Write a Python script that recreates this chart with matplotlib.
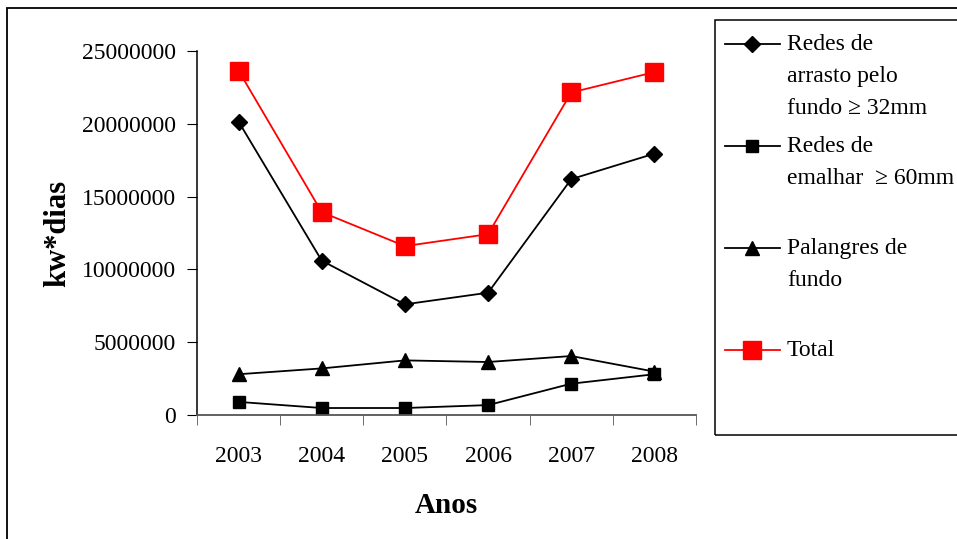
import numpy as np
import matplotlib.pyplot as plt
from matplotlib.lines import Line2D
from matplotlib.patches import Rectangle

plt.rcParams['font.family'] = ['Liberation Serif', 'DejaVu Serif']

anos = ['2003', '2004', '2005', '2006', '2007', '2008']
arrasto = [20150000, 10600000, 7600000, 8400000, 16200000, 17950000]
emalhar = [900000, 480000, 480000, 680000, 2150000, 2800000]
palangres = [2800000, 3200000, 3750000, 3640000, 4050000, 2980000]
total = [23650000, 13930000, 11600000, 12420000, 22150000, 23550000]

labels = ['Redes de\narrasto pelo\nfundo \u2265 32mm',
          'Redes de\nemalhar  \u2265 60mm',
          'Palangres de\nfundo',
          'Total']

W, H = 957, 539
fig = plt.figure(figsize=(W / 100, H / 100), dpi=100)

# outer chart border (runs off the right and bottom edges)
fig.patches.append(Rectangle((7 / W, -0.05), 1.2, 1 - 8 / H + 0.05,
                             transform=fig.transFigure, fill=False,
                             edgecolor='black', linewidth=1.3))

ax = fig.add_axes([197 / W, 1 - 415 / H, (696 - 197) / W, (415 - 51) / H])
x = np.arange(len(anos))

ax.plot(x, arrasto, color='black', lw=1.3, marker='D', ms=8, label=labels[0])
ax.plot(x, emalhar, color='black', lw=1.3, marker='s', ms=8, label=labels[1])
ax.plot(x, palangres, color='black', lw=1.3, marker='^', ms=9.5, label=labels[2])
ax.plot(x, total, color='red', lw=1.3, marker='s', ms=13, label=labels[3])

ax.set_xlim(-0.5, 5.5)
ax.set_ylim(0, 25000000)
ax.set_yticks(np.arange(0, 25000001, 5000000))
ax.set_yticklabels([str(v) for v in range(0, 25000001, 5000000)])
ax.set_xticks(x)
ax.set_xticklabels(anos)
ax.set_xticks(np.arange(-0.5, 6, 1), minor=True)
ax.tick_params(axis='x', which='major', length=0, pad=22, labelsize=17)
ax.tick_params(axis='x', which='minor', length=7, direction='out', color='#555555')
ax.tick_params(axis='y', length=7, direction='out', labelsize=17, pad=8)
for s in ['top', 'right']:
    ax.spines[s].set_visible(False)
ax.spines['bottom'].set_color('#555555')
ax.spines['left'].set_color('black')
ax.spines['bottom'].set_linewidth(1.3)
ax.spines['left'].set_linewidth(1.1)
for ln in ax.lines:
    ln.set_clip_on(False)

ax.set_xlabel('Anos', fontsize=21, fontweight='bold', labelpad=18)
ax.set_ylabel('kw*dias', fontsize=22, fontweight='bold', labelpad=7)

# legend box, drawn Excel-style with each handle on the first text line
fig.patches.append(Rectangle((715 / W, 1 - 435 / H), 0.5, (435 - 20) / H,
                             transform=fig.transFigure, fill=False,
                             edgecolor='black', linewidth=1.1))
rows = [44, 146, 248, 350]
for ln, lab, yy in zip(ax.lines, labels, rows):
    yf = 1 - yy / H
    fig.lines.append(Line2D([725 / W, 752 / W, 780 / W], [yf, yf, yf],
                            transform=fig.transFigure,
                            color=ln.get_color(), lw=1.3, marker=ln.get_marker(),
                            markevery=[1], ms=ln.get_markersize()))
    # top of first line a bit above the handle centre
    fig.text(787 / W, yf + 10 / H, lab, fontsize=17, va='top', ha='left',
             linespacing=1.68, transform=fig.transFigure)

fig.savefig('out.png', dpi=100)
